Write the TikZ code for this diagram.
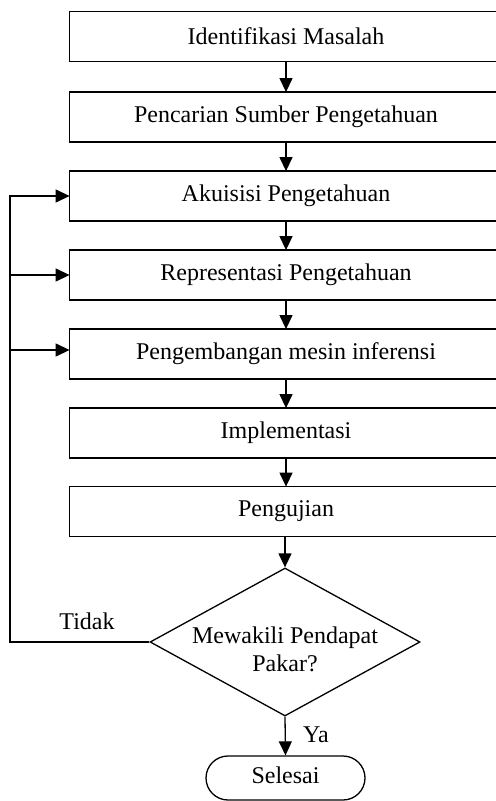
\documentclass[tikz,border=0pt]{standalone}
\usepackage{fontspec}
\setmainfont{Liberation Serif}
\usetikzlibrary{shapes.geometric,shapes.misc,arrows.meta}
\tikzset{
  stepbox/.style={minimum width=213pt, minimum height=24.5pt, inner sep=0pt},
  decision/.style={draw, diamond, line width=0.65pt, minimum width=135pt, minimum height=74pt, inner sep=0pt},
  terminal/.style={draw, rounded rectangle, line width=0.65pt, minimum width=79.5pt, minimum height=22pt, inner sep=0pt},
  arr/.style={line width=0.65pt, -{Triangle[length=7pt,width=6.5pt]}},
  ln/.style={line width=0.65pt},
  lbl/.style={inner sep=0pt, align=center}
}
\begin{document}
\begin{tikzpicture}[x=0.5pt,y=-0.5pt,font=\fontsize{12}{14}\selectfont]
\useasboundingbox (0,0) rectangle (496,801);
\node[stepbox] (b1) at (283,36.5) {};
\node[stepbox] (b2) at (283,117) {};
\node[stepbox] (b3) at (283,196) {};
\node[stepbox] (b4) at (283,275) {};
\node[stepbox] (b5) at (283,354) {};
\node[stepbox] (b6) at (283,433) {};
\node[stepbox] (b7) at (283,511.5) {};
\foreach \b in {b1,b2,b3,b4,b5,b6,b7}
  \draw[ln] (\b.north east) -- (\b.north west) -- (\b.south west) -- (\b.south east);
\node[lbl] (t1) at (286,36.5) {Identifikasi Masalah};
\node[lbl] (t2) at (286,117) {Pencarian Sumber Pengetahuan};
\node[lbl] (t3) at (286,196) {Akuisisi Pengetahuan};
\node[lbl] (t4) at (286,275) {Representasi Pengetahuan};
\node[lbl] (t5) at (286,354) {Pengembangan mesin inferensi};
\node[lbl] (t6) at (286,433) {Implementasi};
\node[lbl] (t7) at (286,511.5) {Pengujian};
\node[decision] (dec) at (285,642) {};
\node[lbl] (dectext) at (285,649) {Mewakili Pendapat\\Pakar?};
\node[terminal] (end) at (285.5,778) {};
\node[lbl] (endtext) at (285.5,775) {Selesai};
\node[lbl] (tidak) at (87,621) {Tidak};
\node[lbl] (ya) at (316,735) {Ya};
\coordinate (L) at (10,642);
\draw[arr] (b1.south -| t1) -- (b2.north -| t1);
\draw[arr] (b2.south -| t1) -- (b3.north -| t1);
\draw[arr] (b3.south -| t1) -- (b4.north -| t1);
\draw[arr] (b4.south -| t1) -- (b5.north -| t1);
\draw[arr] (b5.south -| t1) -- (b6.north -| t1);
\draw[arr] (b6.south -| t1) -- (b7.north -| t1);
\draw[arr] (b7.south -| dec.north) -- (dec.north);
\draw[arr] (dec.south) -- (end.north);
\draw[arr] (dec.west) -- (L) |- (b3.west);
\draw[arr] (L |- b4.west) -- (b4.west);
\draw[arr] (L |- b5.west) ++(0,-4) coordinate (L5) -- (b5.west |- L5);
\end{tikzpicture}
\end{document}
